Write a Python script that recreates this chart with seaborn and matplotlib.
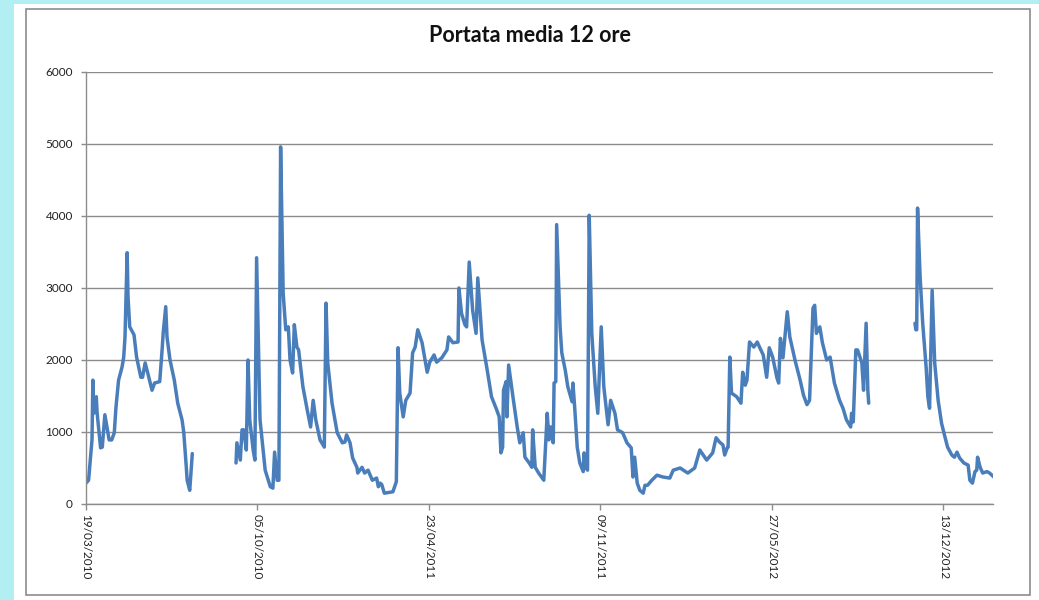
import matplotlib
matplotlib.use("Agg")
import matplotlib.pyplot as plt
import numpy as np
import pandas as pd
import seaborn as sns
from matplotlib.patches import Rectangle

# days since 19/03/2010 and the 12-hour mean flow
seg1_days = [0, 3, 7, 8, 9, 12, 13, 17, 19, 22, 27, 30, 33, 35, 38, 42, 44, 45.5, 48, 49,
             51, 56, 59, 64, 66, 69, 72, 77, 80, 86, 89, 90, 93, 94.5, 98, 103, 107, 112,
             114, 117, 118, 121, 124]
seg1_flow = [290, 330, 890, 1720, 1260, 1490, 1260, 780, 790, 1240, 890, 890, 990, 1350, 1720,
             1900, 2040, 2320, 3490, 2880, 2460, 2350, 2040, 1760, 1760, 1960, 1820, 1580, 1680,
             1700, 2180, 2370, 2740, 2320, 2000, 1720, 1400, 1170, 1000, 510, 330, 190, 700]

seg2_days = [175, 176, 180, 182, 184, 187, 189, 191, 195, 197, 199, 203, 209, 215, 218, 220,
             223, 225, 227, 230, 233, 236, 238, 241, 243, 246, 248, 253, 258, 262, 265, 268,
             273, 278, 280, 282, 287, 293, 299, 302, 304, 308, 311, 316, 317, 322, 325, 329,
             334, 339, 341, 343, 345, 348, 358, 362, 364, 366, 370, 373, 378, 381, 384, 387,
             392, 398, 401, 406, 409, 415, 421, 423, 428, 434, 435, 438, 442, 444, 447, 451,
             455, 457, 462, 468, 473, 479, 482, 484, 486, 487, 490, 491, 493, 498, 503, 506,
             510, 512, 517, 520, 521, 524, 528, 534, 538, 540, 542, 545, 546, 548, 549, 553,
             555, 559, 562, 567, 568, 570, 573, 576, 580, 581, 583, 585, 587, 590, 594, 597,
             601, 604, 609, 612, 617, 620, 626, 631, 636, 638, 640, 643, 646, 650, 652, 655,
             660, 666, 673, 681, 685, 693, 702, 710, 716, 724, 731, 735, 739, 743, 745, 748,
             749, 751, 753, 759, 764, 766, 769, 771, 774, 779, 783, 786, 790, 794, 797, 801,
             806, 808, 810, 813, 818, 821, 827, 833, 837, 841, 844, 848, 850, 852, 856, 859,
             864, 868, 873, 879, 883, 887, 892, 893, 895, 898, 900, 905, 907, 910, 912, 913]
seg2_flow = [570, 850, 610, 1030, 1030, 750, 2000, 1170, 750, 610, 3420, 1170, 470, 240, 220, 720,
             330, 330, 4960, 2930, 2420, 2460, 2000, 1820, 2490, 2180, 2140, 1630, 1310, 1070, 1440, 1170,
             890, 790, 2790, 1960, 1400, 990, 850, 860, 960, 850, 640, 510, 430, 510, 430, 470,
             330, 360, 240, 290, 270, 150, 170, 310, 2170, 1540, 1210, 1440, 1540, 2100, 2180, 2420,
             2240, 1830, 1970, 2070, 1970, 2030, 2140, 2320, 2240, 2250, 3000, 2650, 2490, 2460, 3360, 2690,
             2370, 3140, 2280, 1860, 1490, 1310, 1210, 710, 790, 1580, 1700, 1210, 1930, 1490, 1070, 850,
             990, 650, 570, 510, 1030, 510, 430, 330, 1260, 890, 1070, 850, 1680, 1700, 3880, 2460,
             2100, 1860, 1630, 1420, 1680, 1350, 790, 570, 450, 710, 510, 470, 4010, 2370, 1630, 1260,
             2460, 1630, 1100, 1440, 1260, 1030, 990, 850, 780, 375, 650, 290, 190, 150, 260, 260,
             330, 400, 375, 360, 470, 500, 430, 500, 750, 610, 710, 920, 860, 820, 680, 780,
             790, 2040, 1540, 1490, 1400, 1830, 1650, 1720, 2250, 2180, 2250, 2170, 2070, 1760, 2170, 2040,
             1750, 1680, 2300, 2030, 2670, 2320, 2000, 1720, 1510, 1380, 1440, 2720, 2760, 2370, 2460, 2240,
             2000, 2040, 1680, 1440, 1330, 1170, 1070, 1260, 1140, 2140, 2140, 1960, 1580, 2510, 1580, 1400]

seg3_days = [967, 968, 969, 970, 973, 976, 980, 982, 984, 987, 990, 994, 998, 1002, 1005, 1010,
             1013, 1016, 1019, 1024, 1029, 1031, 1034, 1037, 1039, 1040, 1043, 1046, 1051, 1054, 1059]
seg3_flow = [2510, 2420, 2420, 4110, 3150, 2510, 1900, 1490, 1330, 2970, 1960, 1440, 1120, 930, 790, 680,
             650, 720, 640, 570, 540, 330, 290, 450, 470, 650, 510, 430, 450, 430, 375]

start = pd.Timestamp("2010-03-19")
tick_days = [0, 200, 400, 600, 800, 1000]
y_ticks = [0, 1000, 2000, 3000, 4000, 5000, 6000]

frames = []
for i, (d, f) in enumerate([(seg1_days, seg1_flow), (seg2_days, seg2_flow), (seg3_days, seg3_flow)]):
    frames.append(pd.DataFrame({"day": d, "flow": f, "segment": i}))
df = pd.concat(frames, ignore_index=True)
df["date"] = start + pd.to_timedelta(df["day"], unit="D")

sns.set_style("white")
plt.rcParams["font.family"] = ["Lato", "DejaVu Sans"]

fig = plt.figure(figsize=(10.39, 6.0), dpi=100)
fig.patch.set_facecolor("#b1eff2")
# white chart area and its grey frame, as in the spreadsheet export
fig.patches.append(Rectangle((14 / 1039, 0), 1, 1 - 4 / 600, transform=fig.transFigure,
                             facecolor="white", edgecolor="none", zorder=-2))
fig.patches.append(Rectangle((26 / 1039, 5 / 600), (1030 - 26) / 1039, (591 - 5) / 600,
                             transform=fig.transFigure, facecolor="none",
                             edgecolor="#8c8c8c", linewidth=1.2, zorder=-1))

ax = fig.add_axes([86 / 1039, 96 / 600, (993 - 86) / 1039, 432 / 600])
ax.set_facecolor("none")
ax.set_zorder(2)

sns.lineplot(data=df, x="date", y="flow", units="segment", estimator=None,
             color="#4a7ebb", linewidth=2.5, ax=ax, legend=False)

tick_dates = [start + pd.Timedelta(days=t) for t in tick_days]
ax.set_xticks(tick_dates)
ax.set_xticklabels([t.strftime("%d/%m/%Y") for t in tick_dates], rotation=270,
                   fontsize=8.5, color="#222222")
ax.set_xlim(start, start + pd.Timedelta(days=1058))
ax.set_ylim(0, 6000)
ax.set_yticks(y_ticks)
ax.set_yticklabels([str(v) for v in y_ticks], fontsize=8.5, color="#222222")
ax.yaxis.grid(True, color="#8c8c8c", linewidth=1.0)
ax.set_axisbelow(True)
ax.set_xlabel("")
ax.set_ylabel("")

for side in ["top", "right"]:
    ax.spines[side].set_visible(False)
for side in ["left", "bottom"]:
    ax.spines[side].set_color("#8c8c8c")
    ax.spines[side].set_linewidth(1.0)
ax.tick_params(axis="x", length=4, width=1, color="#8c8c8c", direction="out",
               pad=3, bottom=True)
ax.tick_params(axis="y", length=3.5, width=1, color="#8c8c8c", direction="out",
               pad=6, left=True)

fig.text(530 / 1039, 1 - 35 / 600, "Portata media 12 ore", ha="center", va="center",
         fontsize=15.5, fontweight="bold", color="#111111")

fig.savefig("out.png", dpi=100)
